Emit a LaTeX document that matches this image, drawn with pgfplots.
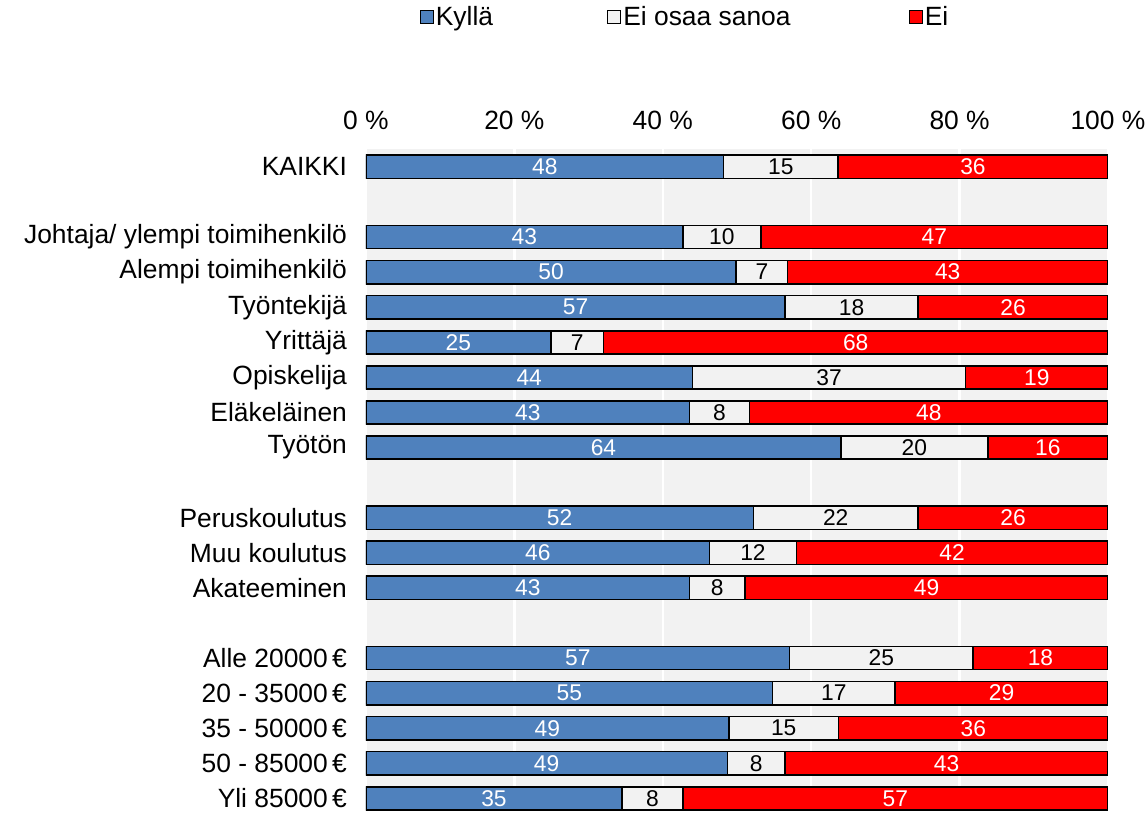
\documentclass[border=0pt]{standalone}
\usepackage{fontspec}
\setmainfont{Liberation Sans}
\usepackage{pgfplots}
\pgfplotsset{compat=1.18}
\usepackage{pgfplotstable}
\definecolor{cK}{HTML}{4F81BD}
\definecolor{cE}{HTML}{F2F2F2}
\definecolor{cN}{HTML}{FF0000}
\definecolor{bg}{HTML}{F2F2F2}
\newcommand\fs{\fontsize{13.2}{15.8}\selectfont}
\newcommand\fn{\fontsize{11.4}{13}\selectfont}

\pgfplotstableread{
pos k e n lk le ln
0 48.2 15.4 36.4 48 15 36
2 42.7 10.5 46.8 43 10 47
3 49.9 6.9 43.2 50 7 43
4 56.5 17.9 25.6 57 18 26
5 24.9 7.1 68.0 25 7 68
6 44.0 36.8 19.2 44 37 19
7 43.6 8.1 48.3 43 8 48
8 64.0 19.8 16.2 64 20 16
10 52.2 22.2 25.6 52 22 26
11 46.3 11.7 42.0 46 12 42
12 43.6 7.5 48.9 43 8 49
14 57.1 24.7 18.2 57 25 18
15 54.8 16.5 28.7 55 17 29
16 48.9 14.8 36.3 49 15 36
17 48.7 7.8 43.5 49 8 43
18 34.5 8.2 57.3 35 8 57
}\data

\pgfplotsset{common/.style={width=371pt,height=331pt,scale only axis,
  xmin=0,xmax=100, ymin=-0.51, ymax=18.36, y dir=reverse}}

\begin{document}
\begin{tikzpicture}
\begin{axis}[common, xbar stacked, bar width=11.6pt,
 axis background/.style={fill=bg},
 axis line style={draw=none}, major tick length=0pt,
 xtick={0,20,...,100}, xticklabels={0 \%,20 \%,40 \%,60 \%,80 \%,100 \%},
 xticklabel pos=upper, xmajorgrids, grid style={white, line width=1.2pt},
 ytick={0,2,3,4,5,6,7,8,10,11,12,14,15,16,17,18},
 yticklabels={KAIKKI, Johtaja/ ylempi toimihenkilö, Alempi toimihenkilö, Työntekijä, Yrittäjä, Opiskelija, Eläkeläinen, Työtön, Peruskoulutus, Muu koulutus, Akateeminen, Alle 20000\,€, 20 - 35000\,€, 35 - 50000\,€, 50 - 85000\,€, Yli 85000\,€},
 tick label style={font=\fs},
 xticklabel style={yshift=6pt},
 yticklabel style={xshift=-6pt},
 legend columns=3,
 legend style={draw=none, fill=none, font=\fs, at={(axis description cs:0.5,1)}, anchor=center, xshift=-26pt, yshift=66pt,
   /tikz/column 2/.style={column sep=56pt}, /tikz/column 4/.style={column sep=58pt}, nodes={inner sep=1pt}},
 legend image code/.code={\draw[#1, draw=black, line width=0.6pt] (0pt,-3.25pt) rectangle (6.5pt,3.25pt);},
]
\addplot[fill=cK, draw=black, line width=0.8pt] table[x=k,y=pos]{\data};
\addplot[fill=cE, draw=black, line width=0.8pt] table[x=e,y=pos]{\data};
\addplot[fill=cN, draw=black, line width=0.8pt] table[x=n,y=pos]{\data};
\legend{Kyllä, Ei osaa sanoa, Ei}
\coordinate (A) at (axis description cs:0,0);
\coordinate (B) at (axis description cs:1,1);
\end{axis}
\begin{axis}[common, hide axis, clip=false, every node near coord/.append style={anchor=center, font=\fn}]
\addplot[only marks, mark=none, nodes near coords, point meta=explicit symbolic, every node near coord/.append style={text=white}] table[x expr=\thisrow{k}/2, y=pos, meta=lk]{\data};
\addplot[only marks, mark=none, nodes near coords, point meta=explicit symbolic, every node near coord/.append style={text=black}] table[x expr=\thisrow{k}+\thisrow{e}/2, y=pos, meta=le]{\data};
\addplot[only marks, mark=none, nodes near coords, point meta=explicit symbolic, every node near coord/.append style={text=white}] table[x expr=\thisrow{k}+\thisrow{e}+\thisrow{n}/2, y=pos, meta=ln]{\data};
\end{axis}
\pgfresetboundingbox
\path ([xshift=-183pt,yshift=-1pt]A) rectangle ([xshift=19.5pt,yshift=74.5pt]B);
\end{tikzpicture}
\end{document}
